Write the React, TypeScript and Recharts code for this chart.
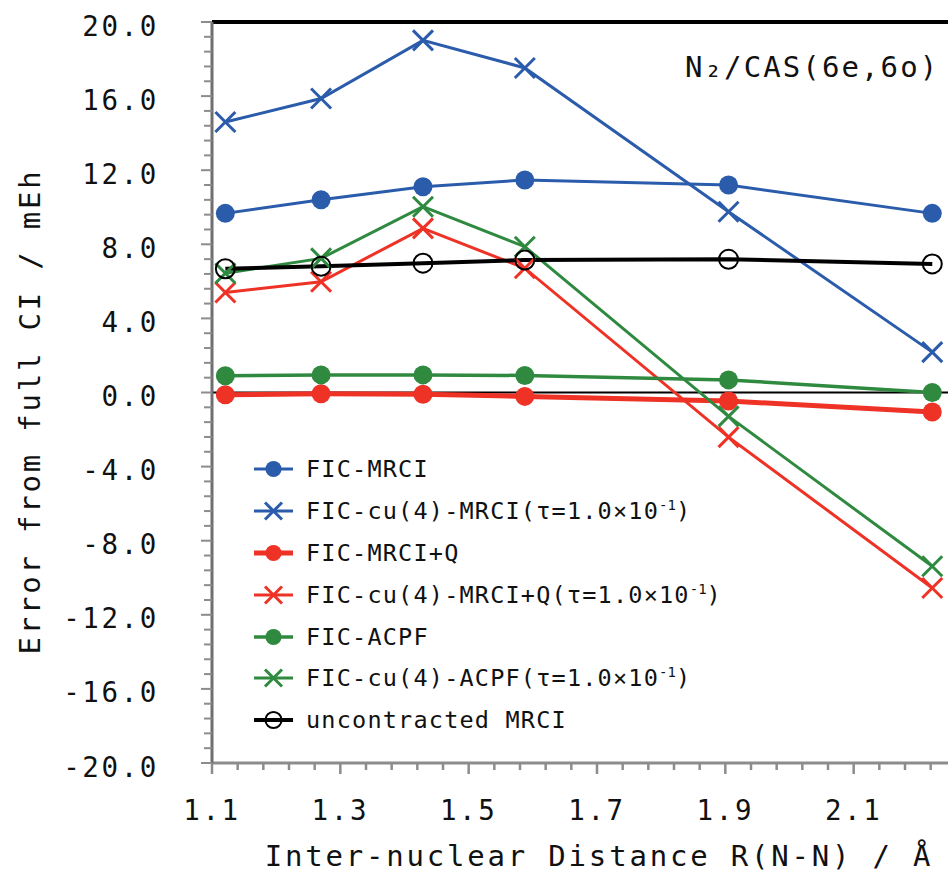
import { LineChart, Line, XAxis, YAxis, ReferenceLine, Legend } from 'recharts';

// N-N distance in Angstrom (2.118, 2.4, 2.7, 3.0, 3.6, 4.2 bohr)
const distances = [1.1208, 1.27, 1.4288, 1.5875, 1.905, 2.2225];

// errors from full CI in mEh
const ficMrci = [9.67, 10.4, 11.11, 11.47, 11.2, 9.67];
const cuMrci = [14.6, 15.87, 19.01, 17.52, 9.76, 2.18];
const ficMrciQ = [-0.12, -0.07, -0.09, -0.21, -0.46, -1.05];
const cuMrciQ = [5.4, 5.98, 8.86, 6.71, -2.41, -10.55];
const ficAcpf = [0.9, 0.95, 0.95, 0.92, 0.68, 0.0];
const cuAcpf = [6.44, 7.24, 10.03, 7.87, -1.29, -9.38];
const uncontracted = [6.68, 6.81, 6.98, 7.15, 7.19, 6.94];

const xMajorTicks = [1.1, 1.3, 1.5, 1.7, 1.9, 2.1];
const yMajorTicks = [-20, -16, -12, -8, -4, 0, 4, 8, 12, 16, 20];

// minor ticks: every 0.04 on x, every 0.8 on y
const xTicks: number[] = [];
for (let i = 0; i <= 30; i++) xTicks.push(Math.round((1.1 + i * 0.04) * 100) / 100);
const yTicks: number[] = [];
for (let i = 0; i <= 50; i++) yTicks.push(Math.round((-20 + i * 0.8) * 10) / 10);

const BLUE = '#2b5cab';
const RED = '#ee3226';
const GREEN = '#2f8a40';
const GREY = '#8c8c8c';
const FONT = '"DejaVu Sans Mono", "Liberation Mono", monospace';

const data = distances.map((r, i) => ({
  r,
  ficMrci: ficMrci[i],
  cuMrci: cuMrci[i],
  ficMrciQ: ficMrciQ[i],
  cuMrciQ: cuMrciQ[i],
  ficAcpf: ficAcpf[i],
  cuAcpf: cuAcpf[i],
  uncontracted: uncontracted[i],
}));

type MarkerKind = 'circle' | 'cross' | 'open';

const series: { key: string; name: string; color: string; marker: MarkerKind; width: number }[] = [
  { key: 'ficMrci', name: 'FIC-MRCI', color: BLUE, marker: 'circle', width: 3 },
  { key: 'cuMrci', name: 'FIC-cu(4)-MRCI(τ=1.0×10⁻¹)', color: BLUE, marker: 'cross', width: 3 },
  { key: 'ficMrciQ', name: 'FIC-MRCI+Q', color: RED, marker: 'circle', width: 5 },
  { key: 'cuMrciQ', name: 'FIC-cu(4)-MRCI+Q(τ=1.0×10⁻¹)', color: RED, marker: 'cross', width: 3 },
  { key: 'ficAcpf', name: 'FIC-ACPF', color: GREEN, marker: 'circle', width: 3.5 },
  { key: 'cuAcpf', name: 'FIC-cu(4)-ACPF(τ=1.0×10⁻¹)', color: GREEN, marker: 'cross', width: 3 },
  { key: 'uncontracted', name: 'uncontracted MRCI', color: '#000', marker: 'open', width: 4 },
];

function Marker({ cx, cy, kind, color, size = 1 }: { cx: number; cy: number; kind: MarkerKind; color: string; size?: number }) {
  if (kind === 'circle') return <circle cx={cx} cy={cy} r={9.5 * size} fill={color} />;
  if (kind === 'open') return <circle cx={cx} cy={cy} r={9.5 * size} fill="none" stroke={color} strokeWidth={2} />;
  const h = 10 * size;
  return (
    <g stroke={color} strokeWidth={3}>
      <line x1={cx - h} y1={cy - h} x2={cx + h} y2={cy + h} />
      <line x1={cx - h} y1={cy + h} x2={cx + h} y2={cy - h} />
    </g>
  );
}

// render the "⁻¹" exponent as a small raised text
function SeriesName({ name }: { name: string }) {
  const parts = name.split('⁻¹');
  if (parts.length < 2) return <span>{name}</span>;
  return (
    <span>
      {parts[0]}
      <span style={{ fontSize: 14, letterSpacing: 0, verticalAlign: 9 }}>-1</span>
      {parts[1]}
    </span>
  );
}

const XTick = ({ x, y, payload }: any) => {
  const v = Math.round(payload.value * 100) / 100;
  const major = xMajorTicks.includes(v) || v === 2.3;
  const label = xMajorTicks.includes(v);
  return (
    <g>
      <line x1={x} y1={y} x2={x} y2={y + (major ? 11 : 7)} stroke={GREY} strokeWidth={2.5} />
      {label && (
        <text x={x} y={y + 57} textAnchor="middle" fontFamily={FONT} fontSize={27.5} letterSpacing={2.6} fill="#111">
          {v.toFixed(1)}
        </text>
      )}
    </g>
  );
};

const YTick = ({ x, y, payload }: any) => {
  const v = Math.round(payload.value * 10) / 10;
  const major = yMajorTicks.includes(v);
  return (
    <g>
      <line x1={x} y1={y} x2={x - (major ? 11 : 8)} y2={y} stroke={GREY} strokeWidth={2} />
      {major && (
        <text x={x - 53} y={y + 13.5} textAnchor="end" fontFamily={FONT} fontSize={27.5} letterSpacing={2.6} fill="#111">
          {v.toFixed(1)}
        </text>
      )}
    </g>
  );
};

const LegendBox = () => (
  <div style={{ fontFamily: FONT, fontSize: 23.5, letterSpacing: 1.2, color: '#111' }}>
    {series.map((s) => (
      <div key={s.key} style={{ display: 'flex', alignItems: 'center', height: 41.9, whiteSpace: 'nowrap' }}>
        <svg width={52} height={30} style={{ flex: 'none' }}>
          <line x1={0} y1={15} x2={39} y2={15} stroke={s.color} strokeWidth={s.width} />
          <Marker cx={19.5} cy={15} kind={s.marker} color={s.color} size={0.85} />
        </svg>
        <SeriesName name={s.name} />
      </div>
    ))}
  </div>
);

export default function App() {
  return (
    <div style={{ position: 'absolute', left: 0, top: 0, width: 948, height: 884, overflow: 'hidden', background: '#fff' }}>
      <LineChart width={1000} height={884} data={data} margin={{ top: 22, right: 18, left: 0, bottom: 0 }}>
        <XAxis
          dataKey="r"
          type="number"
          domain={[1.1, 2.3]}
          ticks={xTicks}
          interval={0}
          height={121}
          tickSize={0}
          tickMargin={0}
          tickLine={false}
          axisLine={{ stroke: GREY, strokeWidth: 3 }}
          tick={<XTick />}
        />
        <YAxis
          type="number"
          domain={[-20, 20]}
          ticks={yTicks}
          interval={0}
          width={212}
          tickSize={0}
          tickMargin={0}
          tickLine={false}
          axisLine={{ stroke: '#6f6f6f', strokeWidth: 3 }}
          tick={<YTick />}
        />
        <ReferenceLine y={20} stroke="#000" strokeWidth={4} />
        <ReferenceLine y={0} stroke="#000" strokeWidth={2} />
        {series.map((s) => (
          <Line
            key={s.key}
            dataKey={s.key}
            name={s.name}
            type="linear"
            stroke={s.color}
            strokeWidth={s.width}
            isAnimationActive={false}
            dot={(p: any) => (
              <Marker key={`${s.key}-${p.index}`} cx={p.cx} cy={p.cy} kind={s.marker} color={s.color} />
            )}
            activeDot={false}
          />
        ))}
        <Legend
          layout="vertical"
          align="center"
          verticalAlign="middle"
          content={() => <LegendBox />}
          wrapperStyle={{ position: 'absolute', left: 254, top: 448, width: 520 }}
        />
      </LineChart>
      <svg width={948} height={884} style={{ position: 'absolute', left: 0, top: 0, pointerEvents: 'none' }}>
        <text x={685} y={77} fontFamily={FONT} fontSize={29} letterSpacing={2.1} fill="#111">
          N₂/CAS(6e,6o)
        </text>
        <text x={599} y={866} textAnchor="middle" fontFamily={FONT} fontSize={29} letterSpacing={2.8} fill="#111">
          Inter-nuclear Distance R(N-N) / Å
        </text>
        <text transform="translate(40,411.5) rotate(-90)" textAnchor="middle" fontFamily={FONT} fontSize={29} letterSpacing={2.8} fill="#111">
          Error from full CI / mEh
        </text>
      </svg>
    </div>
  );
}
